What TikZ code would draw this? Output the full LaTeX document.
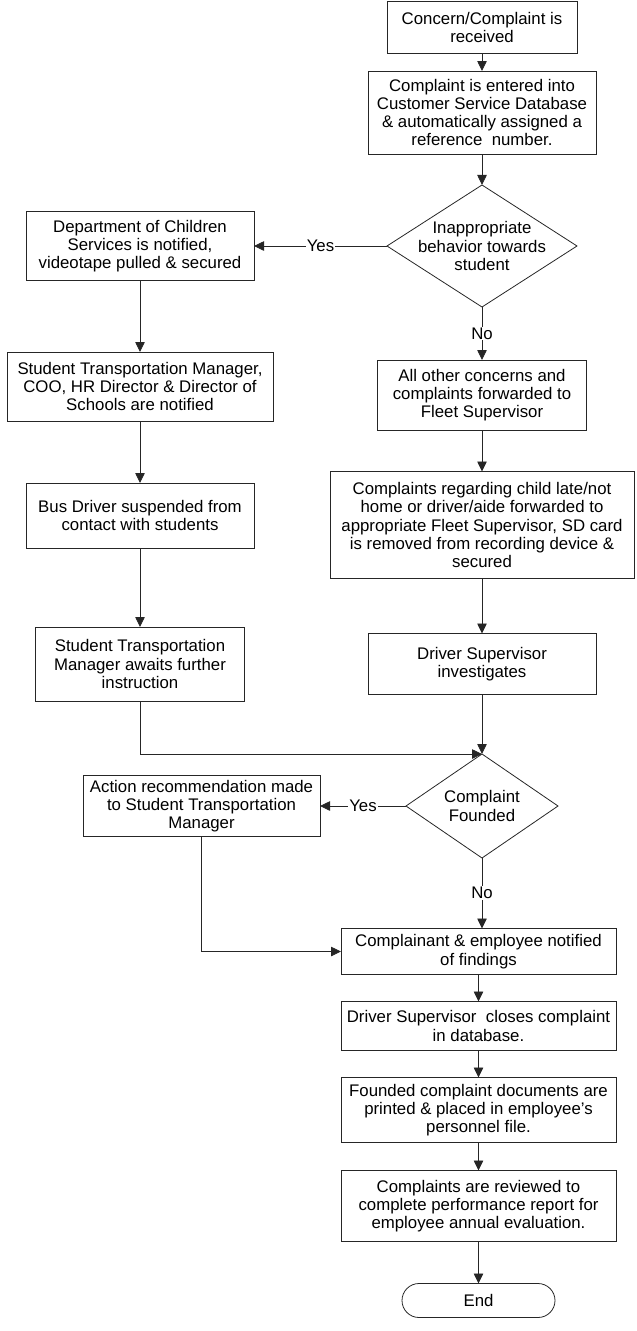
\documentclass[tikz,border=0pt]{standalone}
\usepackage{fontspec}
\setmainfont{Liberation Sans}
\usepackage{tikz}
\usetikzlibrary{arrows.meta,shapes.geometric}

\begin{document}
\begin{tikzpicture}[
  x=1pt, y=-1pt,
  box/.style={draw=black!85,rectangle,align=center,inner sep=0pt,outer sep=0pt,line width=0.8pt,
    font=\fontsize{16.8}{18.3}\selectfont},
  dnode/.style={draw=black!85,diamond,align=center,inner xsep=-18pt,inner ysep=-12pt,outer sep=0pt,
    line width=0.8pt,font=\fontsize{16.8}{18.3}\selectfont},
  tnode/.style={box,rounded corners=17pt},
  lbl/.style={fill=white,inner sep=1pt,font=\fontsize{16.8}{18.3}\selectfont},
  arr/.style={draw=black!85,line width=0.8pt,-{Triangle[length=10pt,width=9.5pt]}}
]
  \useasboundingbox (0,0) rectangle (637,1331);

  % intake
  \node[box,minimum width=190,minimum height=52] (n1) at (482,27.5) {Concern/Complaint is\\received};
  \node[box,minimum width=228,minimum height=83] (n2) at (482,112.5) {Complaint is entered into\\Customer Service Database\\\& automatically assigned a\\reference\ \ number.};
  \node[dnode,minimum width=190,minimum height=122] (d1) at (482,246) {Inappropriate\\behavior towards\\student};

  % yes branch
  \node[box,minimum width=228,minimum height=69] (l1) at (140,246) {Department of Children\\Services is notified,\\videotape pulled \& secured};
  \node[box,minimum width=266,minimum height=69] (l2) at (140,386.5) {Student Transportation Manager,\\COO, HR Director \& Director of\\Schools are notified};
  \node[box,minimum width=228,minimum height=65] (l3) at (140,515.5) {Bus Driver suspended from\\contact with students};
  \node[box,minimum width=209,minimum height=74] (l4) at (140,664) {Student Transportation\\Manager awaits further\\instruction};

  % no branch
  \node[box,minimum width=209,minimum height=70] (r1) at (482,395) {All other concerns and\\complaints forwarded to\\Fleet Supervisor};
  \node[box,minimum width=304,minimum height=107] (r2) at (482,525) {Complaints regarding child late/not\\home or driver/aide forwarded to\\appropriate Fleet Supervisor, SD card\\is removed from recording device \&\\secured};
  \node[box,minimum width=228,minimum height=61] (r3) at (482,664) {Driver Supervisor\\investigates};

  % decision
  \node[dnode,minimum width=152,minimum height=104] (d2) at (482,806) {Complaint\\Founded};
  \node[box,minimum width=237,minimum height=61] (act) at (201.5,806) {Action recommendation made\\to Student Transportation\\Manager};

  % closing
  \node[box,minimum width=275,minimum height=46] (b1) at (478.5,951.5) {Complainant \& employee notified\\of findings};
  \node[box,minimum width=275,minimum height=49] (b2) at (478.5,1026) {Driver Supervisor\ \ closes complaint\\in database.};
  \node[box,minimum width=275,minimum height=65] (b3) at (478.5,1110) {Founded complaint documents are\\printed \& placed in employee’s\\personnel file.};
  \node[box,minimum width=275,minimum height=71] (b4) at (478.5,1206) {Complaints are reviewed to\\complete performance report for\\employee annual evaluation.};
  \node[tnode,minimum width=153,minimum height=34] (endn) at (478.5,1300.5) {End};

  % edges
  \draw[arr] (n1) -- (n2);
  \draw[arr] (n2) -- (d1);
  \draw[arr] (d1) -- node[lbl] {Yes} (l1);
  \draw[arr] (d1) -- node[lbl] {No} (r1);
  \draw[arr] (l1) -- (l2);
  \draw[arr] (l2) -- (l3);
  \draw[arr] (l3) -- (l4);
  \draw[arr] (r1) -- (r2);
  \draw[arr] (r2) -- (r3);
  \draw[arr] (r3) -- (d2);
  \draw[arr] (l4.south) |- (d2.north);
  \draw[arr] (d2) -- node[lbl] {Yes} (act);
  \draw[arr] (d2.south) -- node[lbl] {No} (d2.south |- b1.north);
  \draw[arr] (act.south) |- (b1.west);
  \draw[arr] (b1) -- (b2);
  \draw[arr] (b2) -- (b3);
  \draw[arr] (b3) -- (b4);
  \draw[arr] (b4) -- (endn);

\end{tikzpicture}
\end{document}
